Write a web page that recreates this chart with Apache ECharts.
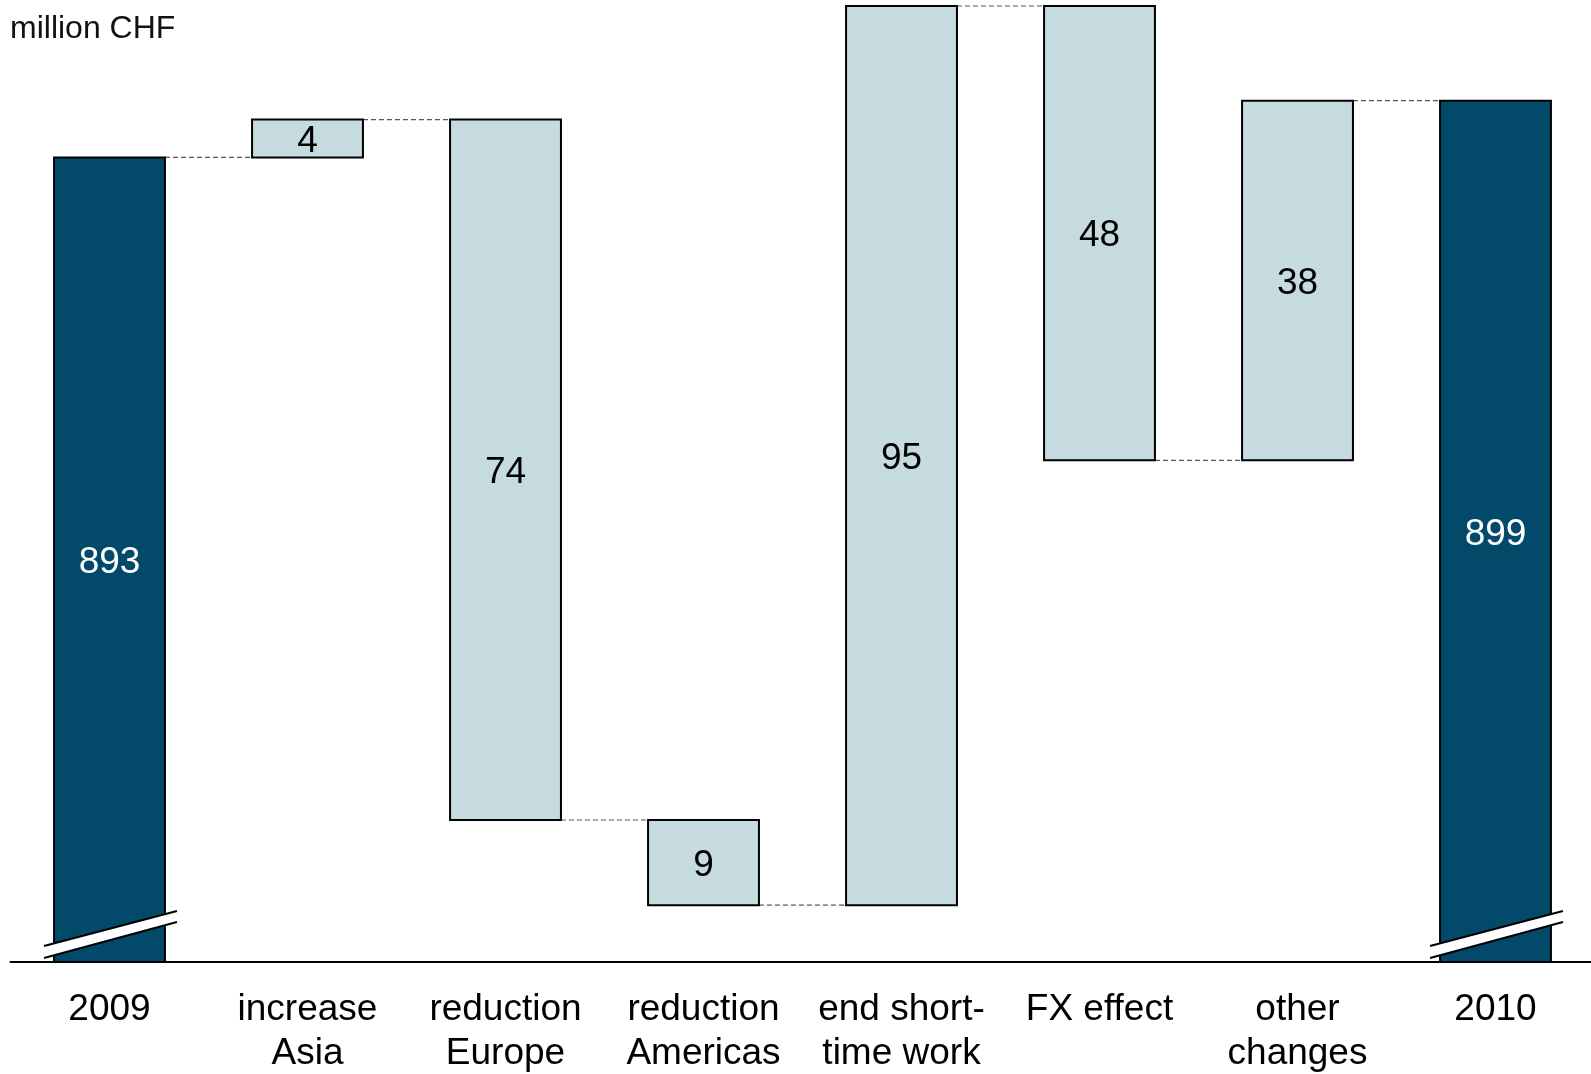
<!DOCTYPE html>
<html lang="en">

<head>
    <meta charset="UTF-8">
    <title>waterfall</title>
    <script src="https://cdn.jsdelivr.net/npm/echarts@6/dist/echarts.min.js"></script>
    <style>
        html, body { margin: 0; padding: 0; background: #fff; }
    </style>
</head>

<body>
    <div id="main" style="width: 1591px;height: 1074px;"></div>
    <script>
        var categories = ['2009', 'increase\nAsia', 'reduction\nEurope', 'reduction\nAmericas', 'end short-\ntime work', 'FX effect', 'other\nchanges', '2010']
        var startValue = 893
        var changes = [4, -74, -9, 95, -48, 38]
        var endValue = 899
        // broken axis: it does not start at zero
        var yMin = 808
        var yMax = 909

        var darkColor = '#034A6A'
        var lightColor = '#C6DBE0'
        var font = 'Liberation Sans, Arial, sans-serif'

        // [index, low, high, isTotal] for every bar, plus the level of the connector after it
        var bars = []
        var levels = []
        var labels = []
        bars.push([0, yMin, startValue, 1])
        levels.push(startValue)
        labels.push(String(startValue))
        var running = startValue
        changes.forEach(function (c, i) {
            var next = running + c
            bars.push([i + 1, Math.min(running, next), Math.max(running, next), 0])
            levels.push(next)
            labels.push(String(Math.abs(c)))
            running = next
        })
        bars.push([categories.length - 1, yMin, endValue, 1])
        levels.push(endValue)
        labels.push(String(endValue))

        function renderBar(params, api) {
            var i = params.dataIndex
            var idx = api.value(0)
            var top = api.coord([idx, api.value(2)])
            var bottom = api.coord([idx, api.value(1)])
            var w = api.size([1, 0])[0] * 0.56
            var left = top[0] - w / 2
            var right = top[0] + w / 2
            var isTotal = api.value(3) === 1
            var children = []

            // dashed connector to the next bar
            if (i < bars.length - 1) {
                var y = api.coord([idx, levels[i]])[1]
                var nextLeft = api.coord([idx + 1, levels[i]])[0] - w / 2
                children.push({
                    type: 'line',
                    shape: { x1: right, y1: y, x2: nextLeft, y2: y },
                    style: { stroke: '#555', lineWidth: 1.2, lineDash: [5, 3] }
                })
            }

            children.push({
                type: 'rect',
                shape: { x: left, y: top[1], width: w, height: bottom[1] - top[1] },
                style: { fill: isTotal ? darkColor : lightColor, stroke: '#000', lineWidth: 2 }
            })

            // break marks on the total bars
            if (isTotal) {
                var b = bottom[1]
                var x1 = left - 10, x2 = right + 12
                children.push({
                    type: 'polygon',
                    shape: { points: [[x1, b - 16], [x2, b - 51], [x2, b - 40], [x1, b - 4]] },
                    style: { fill: '#fff' }
                })
                children.push({
                    type: 'line',
                    shape: { x1: x1, y1: b - 16, x2: x2, y2: b - 51 },
                    style: { stroke: '#000', lineWidth: 2 }
                })
                children.push({
                    type: 'line',
                    shape: { x1: x1, y1: b - 4, x2: x2, y2: b - 40 },
                    style: { stroke: '#000', lineWidth: 2 }
                })
            }

            children.push({
                type: 'text',
                x: top[0],
                y: (top[1] + bottom[1]) / 2 + 3,
                style: {
                    text: labels[i],
                    fill: isTotal ? '#fff' : '#000',
                    font: '37px ' + font,
                    align: 'center',
                    verticalAlign: 'middle'
                }
            })
            return { type: 'group', children: children }
        }

        var myCharts = echarts.init(document.getElementById('main'))
        var option = {
            animation: false,
            backgroundColor: '#fff',
            title: {
                text: 'million CHF',
                left: 10,
                top: 13,
                padding: 0,
                textStyle: { fontSize: 32, fontWeight: 'normal', color: '#111', fontFamily: font }
            },
            grid: { left: 10.5, width: 1584, top: 6, bottom: 112, outerBoundsMode: 'none', containLabel: false },
            xAxis: {
                type: 'category',
                data: categories,
                axisLine: { show: true, lineStyle: { color: '#000', width: 2 } },
                axisTick: { show: false },
                axisLabel: {
                    interval: 0,
                    margin: 26,
                    color: '#000',
                    fontSize: 37,
                    lineHeight: 44,
                    fontFamily: font
                }
            },
            yAxis: {
                type: 'value',
                min: yMin,
                max: yMax,
                show: false,
                splitLine: { show: false }
            },
            series: [
                {
                    type: 'custom',
                    renderItem: renderBar,
                    data: bars,
                    encode: { x: 0, y: [1, 2] },
                    clip: false
                }
            ]
        }
        myCharts.setOption(option)
    </script>
</body>

</html>
